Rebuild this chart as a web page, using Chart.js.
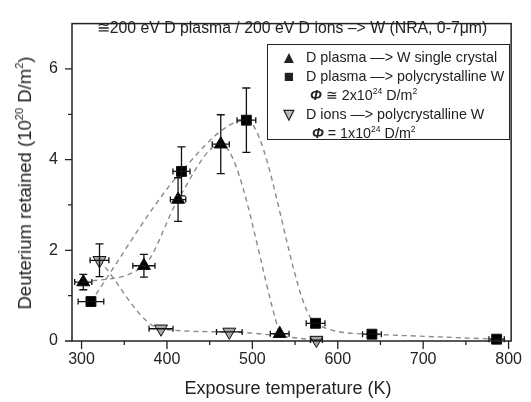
<!DOCTYPE html>
<html>
<head>
<meta charset="utf-8">
<script src="https://cdn.jsdelivr.net/npm/chart.js@4"></script>
<style>
  html, body { margin: 0; padding: 0; background: #fff; }
  #wrap { position: relative; width: 531px; height: 402px; font-family: "Liberation Sans", Arial, sans-serif; color: #222; }
  #chart { position: absolute; left: 0; top: 0; }
  .ov { position: absolute; white-space: nowrap; }
  sup { font-size: 0.6em; line-height: 0; vertical-align: 0.75em; }
  #title { left: 292px; top: 27px; transform: translate(-50%, -50%); font-size: 15.8px; }
  #xtitle { left: 288px; top: 388px; transform: translate(-50%, -50%); font-size: 18px; }
  #ytitle { left: 25px; top: 183px; transform: translate(-50%, -50%) rotate(-90deg); font-size: 18.5px; }
  #legend { left: 267px; top: 44px; width: 243px; height: 96px; border: 1.5px solid #222; box-sizing: border-box; font-size: 14.3px; }
  #legend .row { position: absolute; left: 0; height: 19px; line-height: 19px; }
  #legend .mk { position: absolute; left: 12px; width: 18px; text-align: center; font-size: 17px; }
  #legend .tx { position: absolute; left: 38px; }
  .phi { font-style: italic; font-weight: bold; }
</style>
</head>
<body>
<div id="wrap">
  <canvas id="chart" width="531" height="402"></canvas>
  <div class="ov" id="title">≅200 eV D plasma / 200 eV D ions –&gt; W (NRA, 0-7μm)</div>
  <div class="ov" id="xtitle">Exposure temperature (K)</div>
  <div class="ov" id="ytitle">Deuterium retained (10<sup>20</sup> D/m<sup>2</sup>)</div>
  <div class="ov" id="legend">
    <div class="row" style="top:3px"><span class="mk">▲</span><span class="tx">D plasma —&gt; W single crystal</span></div>
    <div class="row" style="top:22px"><span class="mk">■</span><span class="tx">D plasma —&gt; polycrystalline W</span></div>
    <div class="row" style="top:41px"><span class="tx" style="left:42px"><span class="phi">Φ</span> ≅ 2x10<sup>24</sup> D/m<sup>2</sup></span></div>
    <div class="row" style="top:60px"><span class="mk" style="color:#bbb;-webkit-text-stroke:1.2px #222">▼</span><span class="tx">D ions —&gt; polycrystalline W</span></div>
    <div class="row" style="top:79px"><span class="tx" style="left:44px"><span class="phi">Φ</span> = 1x10<sup>24</sup> D/m<sup>2</sup></span></div>
  </div>
</div>
<script>
// axis ticks
const xTicks = [300, 400, 500, 600, 700, 800];
const xMinor = [350, 450, 550, 650, 750];
const yTicks = [0, 2, 4, 6];
const yMinor = [1, 3, 5];

// D plasma -> W single crystal
const tempSingle = [302, 373, 413, 463, 532];
const dSingle = [1.30, 1.66, 3.12, 4.34, 0.16];
const dErrSingle = [0.17, 0.25, 0.48, 0.65, 0];
const tErrSingle = [10, 13, 9, 10, 11];

// D plasma -> polycrystalline W
const tempPoly = [311, 417, 493, 574, 640, 786];
const dPoly = [0.87, 3.74, 4.87, 0.39, 0.15, 0.04];
const dErrPoly = [0, 0.54, 0.71, 0, 0, 0];
const tErrPoly = [15, 10, 11, 11, 11, 9];

// D ions -> polycrystalline W
const tempIons = [321, 393, 473, 575];
const dIons = [1.78, 0.27, 0.20, 0.02];
const dErrIons = [0.36, 0, 0, 0];
const tErrIons = [11, 14, 15, 7];

const errors = [
  { t: tErrSingle, d: dErrSingle },
  { t: tErrPoly, d: dErrPoly },
  { t: tErrIons, d: dErrIons }
];

function pts(xs, ys) {
  return xs.map((x, i) => ({ x: x, y: ys[i] }));
}

function series(data, style, radius, fill, rot) {
  return {
    type: 'line',
    data: data,
    showLine: true,
    borderColor: '#8a8a8a',
    borderWidth: 1.4,
    borderDash: [5, 4],
    cubicInterpolationMode: 'monotone',
    pointStyle: style,
    pointRadius: radius,
    pointRotation: rot,
    pointBackgroundColor: fill,
    pointBorderColor: '#111',
    pointBorderWidth: 1,
    clip: false
  };
}

// error bars + frame + ticks
const extras = {
  id: 'extras',
  afterDatasetsDraw(chart) {
    const ctx = chart.ctx;
    const xs = chart.scales.x, ys = chart.scales.y;
    ctx.save();
    ctx.strokeStyle = '#111';
    ctx.lineWidth = 1.3;
    chart.data.datasets.forEach((ds, di) => {
      const e = errors[di];
      ds.data.forEach((p, i) => {
        const px = xs.getPixelForValue(p.x), py = ys.getPixelForValue(p.y);
        const de = e.d[i], te = e.t[i];
        ctx.beginPath();
        if (de > 0) {
          const y1 = ys.getPixelForValue(p.y + de), y2 = ys.getPixelForValue(p.y - de);
          ctx.moveTo(px, y1); ctx.lineTo(px, y2);
          ctx.moveTo(px - 4, y1); ctx.lineTo(px + 4, y1);
          ctx.moveTo(px - 4, y2); ctx.lineTo(px + 4, y2);
        }
        if (te > 0) {
          const x1 = xs.getPixelForValue(p.x - te), x2 = xs.getPixelForValue(p.x + te);
          ctx.moveTo(x1, py); ctx.lineTo(x2, py);
          ctx.moveTo(x1, py - 3); ctx.lineTo(x1, py + 3);
          ctx.moveTo(x2, py - 3); ctx.lineTo(x2, py + 3);
        }
        ctx.stroke();
      });
    });
    const a = chart.chartArea;
    ctx.strokeStyle = '#222';
    ctx.lineWidth = 1.5;
    ctx.strokeRect(a.left, a.top, a.right - a.left, a.bottom - a.top);
    ctx.lineWidth = 1.3;
    ctx.beginPath();
    xTicks.forEach(v => { const x = xs.getPixelForValue(v); ctx.moveTo(x, a.bottom); ctx.lineTo(x, a.bottom + 8); });
    xMinor.forEach(v => { const x = xs.getPixelForValue(v); ctx.moveTo(x, a.bottom); ctx.lineTo(x, a.bottom + 4); });
    yTicks.forEach(v => { const y = ys.getPixelForValue(v); ctx.moveTo(a.left, y); ctx.lineTo(a.left - 7, y); });
    yMinor.forEach(v => { const y = ys.getPixelForValue(v); ctx.moveTo(a.left, y); ctx.lineTo(a.left - 4, y); });
    ctx.stroke();
    ctx.restore();
  }
};

const tickFont = { family: 'Liberation Sans', size: 16 };

new Chart(document.getElementById('chart'), {
  type: 'scatter',
  data: {
    datasets: [
      series(pts(tempSingle, dSingle), 'triangle', 7.5, '#000', 0),
      series(pts(tempPoly, dPoly), 'rect', 7, '#000', 0),
      series(pts(tempIons, dIons), 'triangle', 7.5, '#a8a8a8', 180)
    ]
  },
  options: {
    responsive: false,
    animation: false,
    events: [],
    layout: { padding: { left: 0, right: 13, top: 12, bottom: 0 } },
    plugins: { legend: { display: false }, tooltip: { enabled: false } },
    scales: {
      x: {
        type: 'linear', min: 288.8, max: 803,
        grid: { display: false, drawTicks: false },
        border: { display: false },
        afterBuildTicks: s => { s.ticks = xTicks.map(v => ({ value: v })); },
        afterFit: s => { s.height = 61; },
        ticks: { font: tickFont, color: '#222', padding: 9, maxRotation: 0 }
      },
      y: {
        type: 'linear', min: 0, max: 7,
        grid: { display: false, drawTicks: false },
        border: { display: false },
        afterBuildTicks: s => { s.ticks = yTicks.map(v => ({ value: v })); },
        afterFit: s => { s.width = 72; },
        ticks: { font: tickFont, color: '#222', padding: 14 }
      }
    }
  },
  plugins: [extras]
});
</script>
</body>
</html>
